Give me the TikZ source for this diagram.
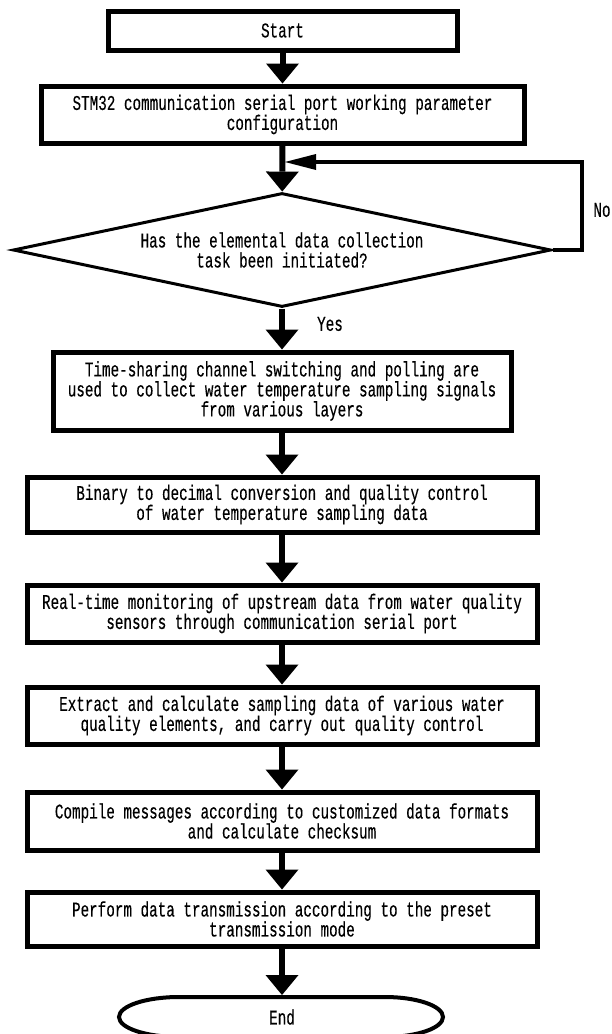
\documentclass[tikz,border=0pt]{standalone}
\usepackage{fontspec}
\setmainfont[FakeStretch=0.68,FakeBold=0.25]{Liberation Mono}
\usetikzlibrary{arrows.meta,shapes.geometric}
\tikzset{
  lbl/.style={font=\fontsize{21}{20}\selectfont, align=center, inner sep=0pt},
  procbox/.style={lbl, draw, rectangle, line width=5pt},
  decbox/.style={lbl, draw, diamond, line width=3pt, aspect=4.7},
  flowarrow/.style={line width=6pt, -{Triangle[length=20pt,width=33pt,line width=0pt]}},
  fbarrow/.style={line width=4pt, -{Triangle[length=31pt,width=16pt,line width=0pt]}},
}
\begin{document}
\begin{tikzpicture}[x=1pt,y=-1pt]
\useasboundingbox (0,0) rectangle (612,1034);
\fill[white] (0,0) rectangle (612,1034);

\node[procbox, minimum width=349pt, minimum height=39pt] (start) at (282.5,30.5) {Start};
\node[procbox, minimum width=483pt, minimum height=57pt] (stm) at (282.5,114.5)
  {STM32 communication serial port working parameter\\configuration};
\node[decbox, minimum width=538pt, minimum height=114pt] (dec) at (282,250)
  {Has the elemental data collection\\task been initiated?};
\node[procbox, minimum width=458pt, minimum height=78pt] (s3) at (282,391)
  {Time-sharing channel switching and polling are\\used to collect water temperature sampling signals\\from various layers};
\node[procbox, minimum width=510pt, minimum height=55pt] (s4) at (282,504.5)
  {Binary to decimal conversion and quality control\\of water temperature sampling data};
\node[procbox, minimum width=510pt, minimum height=57pt] (s5) at (282,613.5)
  {Real-time monitoring of upstream data from water quality\\sensors through communication serial port};
\node[procbox, minimum width=510pt, minimum height=57pt] (s6) at (282,715.5)
  {Extract and calculate sampling data of various water\\quality elements, and carry out quality control};
\node[procbox, minimum width=510pt, minimum height=58pt] (s7) at (282,821)
  {Compile messages according to customized data formats\\and calculate checksum};
\node[procbox, minimum width=510pt, minimum height=54pt] (s8) at (282,919)
  {Perform data transmission according to the preset\\transmission mode};

% End terminator
\draw[line width=4pt] (179,997) -- (385,997)
  arc[start angle=-90, end angle=90, x radius=58, y radius=20]
  -- (179,1037)
  arc[start angle=90, end angle=270, x radius=60, y radius=20] -- cycle;
\node[lbl] (end) at (282,1017) {End};
\coordinate (endtop) at (282,995);

% labels
\node[lbl] (yes) at (330,324) {Yes};
\node[lbl] (no) at (602,210) {No};

% connectors
\coordinate (fb) at (285,162);
\coordinate (fbr) at (582,162);
\draw[flowarrow] (start) -- (stm);
\draw[flowarrow] (stm) -- (dec);
\draw[flowarrow] (dec) -- (s3);
\draw[flowarrow] (s3) -- (s4);
\draw[flowarrow] (s4) -- (s5);
\draw[flowarrow] (s5) -- (s6);
\draw[flowarrow] (s6) -- (s7);
\draw[flowarrow] (s7) -- (s8);
\draw[flowarrow] (s8) -- (endtop);
\draw[fbarrow] (dec.east) -| (fbr) -- (fb);
\end{tikzpicture}
\end{document}
